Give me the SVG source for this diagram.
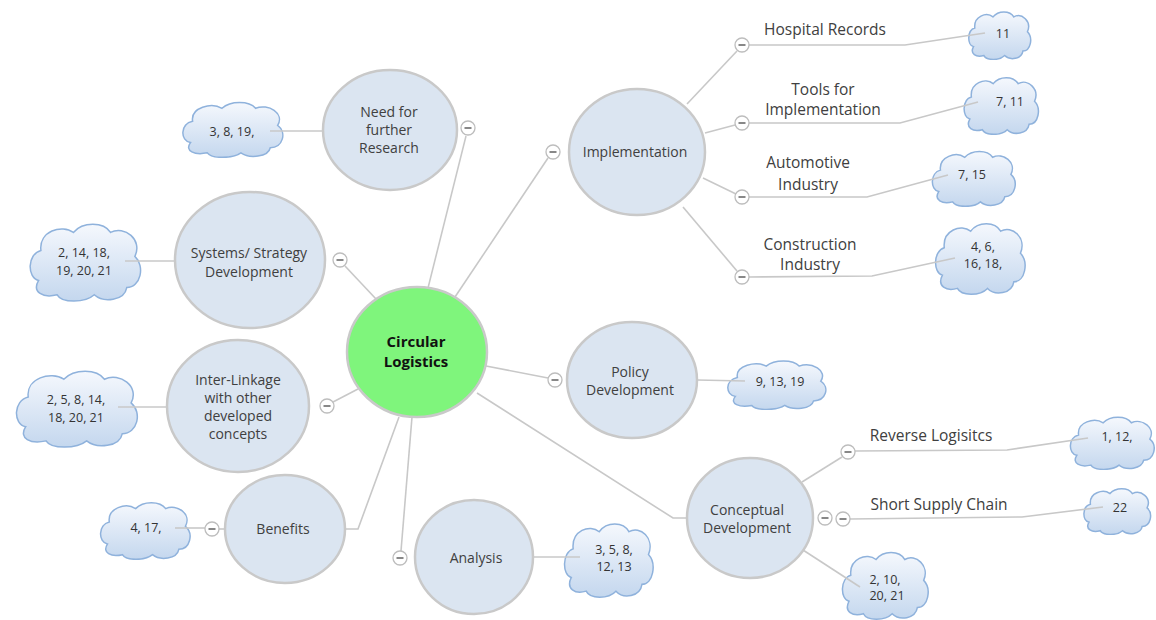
<svg xmlns="http://www.w3.org/2000/svg" xmlns:xlink="http://www.w3.org/1999/xlink" width="1156" height="620" viewBox="0 0 1156 620">
  <style>
    .topic { fill: #dbe5f1; stroke: #c9c9c9; stroke-width: 2.5; }
    .root { fill: #7ff57c; stroke: #c9c9c9; stroke-width: 2.5; }
    .lbl { font-family: "Open Sans", "Liberation Sans", sans-serif; font-size: 14px; fill: #404040; text-anchor: middle; }
    .root-lbl { font-family: "Open Sans", "Liberation Sans", sans-serif; font-size: 15px; font-weight: bold; fill: #111; text-anchor: middle; }
    .sub { font-family: "Open Sans", "Liberation Sans", sans-serif; font-size: 15.5px; fill: #404040; text-anchor: middle; }
    .ref { font-family: "Open Sans", "Liberation Sans", sans-serif; font-size: 12.5px; fill: #333; text-anchor: middle; }
    .link { fill: none; stroke: #c8c8c8; stroke-width: 1.6; }
  </style>
  <defs>
    <linearGradient id="cloudFill" x1="0" y1="0" x2="0" y2="1">
      <stop offset="0" stop-color="#f5f8fd"/>
      <stop offset="1" stop-color="#c4d7ee"/>
    </linearGradient>
    <!-- reference bubble: rounded cloud outline, stretched to each box -->
    <symbol id="cloud" viewBox="0 0 100 70" preserveAspectRatio="none">
      <path d="M10,52 C0,50 0,30 12,27 C10,11 30,5 40,12 C48,3 66,3 72,12 C84,6 100,18 93,32 C102,40 98,58 86,58 C84,69 66,71 58,64 C50,71 30,71 26,64 C14,67 4,62 10,52 Z"
            fill="url(#cloudFill)" stroke="#8fb2dc" stroke-width="1.5" vector-effect="non-scaling-stroke"/>
    </symbol>
    <!-- collapse toggle -->
    <g id="btn">
      <circle r="7" fill="#fff" stroke="#bdbdbd" stroke-width="1.3"/>
      <line x1="-3.5" y1="0" x2="3.5" y2="0" stroke="#555" stroke-width="1.4"/>
    </g>
  </defs>

  <rect width="1156" height="620" fill="#fff"/>

  <!-- main topics -->
  <g id="node-root">
    <ellipse class="root" cx="417" cy="352" rx="70" ry="65"/>
    <text class="root-lbl" x="416" y="347">Circular</text>
    <text class="root-lbl" x="416" y="367">Logistics</text>
  </g>
  <g id="node-research">
    <ellipse class="topic" cx="390" cy="130" rx="67" ry="60"/>
    <text class="lbl" x="389" y="117">Need for</text>
    <text class="lbl" x="389" y="135">further</text>
    <text class="lbl" x="389" y="153">Research</text>
  </g>
  <g id="node-systems">
    <ellipse class="topic" cx="250" cy="260" rx="75" ry="68"/>
    <text class="lbl" x="249" y="258">Systems/ Strategy</text>
    <text class="lbl" x="249" y="277">Development</text>
  </g>
  <g id="node-interlinkage">
    <ellipse class="topic" cx="238" cy="406" rx="71" ry="66"/>
    <text class="lbl" x="238" y="385">Inter-Linkage</text>
    <text class="lbl" x="238" y="403">with other</text>
    <text class="lbl" x="238" y="421">developed</text>
    <text class="lbl" x="238" y="439">concepts</text>
  </g>
  <g id="node-benefits">
    <ellipse class="topic" cx="285" cy="529" rx="60" ry="54"/>
    <text class="lbl" x="283" y="534">Benefits</text>
  </g>
  <g id="node-analysis">
    <ellipse class="topic" cx="474" cy="557" rx="59" ry="57"/>
    <text class="lbl" x="476" y="563">Analysis</text>
  </g>
  <g id="node-implementation">
    <ellipse class="topic" cx="637" cy="152" rx="68" ry="63"/>
    <text class="lbl" x="635" y="157">Implementation</text>
  </g>
  <g id="node-policy">
    <ellipse class="topic" cx="632" cy="380" rx="65" ry="58"/>
    <text class="lbl" x="630" y="377">Policy</text>
    <text class="lbl" x="630" y="395">Development</text>
  </g>
  <g id="node-conceptual">
    <ellipse class="topic" cx="750" cy="518" rx="63" ry="60"/>
    <text class="lbl" x="747" y="515">Conceptual</text>
    <text class="lbl" x="747" y="533">Development</text>
  </g>

  <!-- reference clouds -->
  <g id="ref-research">
    <use href="#cloud" x="180" y="98" width="105" height="60"/>
    <text class="ref" x="232" y="136">3, 8, 19,</text>
  </g>
  <g id="ref-systems">
    <use href="#cloud" x="27" y="218" width="116" height="84"/>
    <text class="ref" x="84" y="257">2, 14, 18,</text>
    <text class="ref" x="84" y="275">19, 20, 21</text>
  </g>
  <g id="ref-interlinkage">
    <use href="#cloud" x="13" y="365" width="127" height="83"/>
    <text class="ref" x="76" y="404">2, 5, 8, 14,</text>
    <text class="ref" x="76" y="422">18, 20, 21</text>
  </g>
  <g id="ref-benefits">
    <use href="#cloud" x="98" y="498" width="94" height="62"/>
    <text class="ref" x="146" y="532">4, 17,</text>
  </g>
  <g id="ref-analysis">
    <use href="#cloud" x="562" y="518" width="93" height="80"/>
    <text class="ref" x="614" y="554">3, 5, 8,</text>
    <text class="ref" x="614" y="571">12, 13</text>
  </g>
  <g id="ref-hospital">
    <use href="#cloud" x="967" y="8" width="65" height="52"/>
    <text class="ref" x="1003" y="38">11</text>
  </g>
  <g id="ref-tools">
    <use href="#cloud" x="962" y="73" width="78" height="62"/>
    <text class="ref" x="1010" y="106">7, 11</text>
  </g>
  <g id="ref-automotive">
    <use href="#cloud" x="930" y="147" width="87" height="60"/>
    <text class="ref" x="972" y="179">7, 15</text>
  </g>
  <g id="ref-construction">
    <use href="#cloud" x="933" y="218" width="94" height="77"/>
    <text class="ref" x="983" y="251">4, 6,</text>
    <text class="ref" x="983" y="268">16, 18,</text>
  </g>
  <g id="ref-policy">
    <use href="#cloud" x="725" y="357" width="103" height="53"/>
    <text class="ref" x="780" y="386">9, 13, 19</text>
  </g>
  <g id="ref-reverse">
    <use href="#cloud" x="1068" y="413" width="88" height="57"/>
    <text class="ref" x="1117" y="441">1, 12,</text>
  </g>
  <g id="ref-supply">
    <use href="#cloud" x="1082" y="485" width="70" height="50"/>
    <text class="ref" x="1120" y="512">22</text>
  </g>
  <g id="ref-conceptual">
    <use href="#cloud" x="840" y="547" width="90" height="73"/>
    <text class="ref" x="885" y="584">2, 10,</text>
    <text class="ref" x="887" y="600">20, 21</text>
  </g>

  <!-- sub-topic labels -->
  <g id="sub-hospital"><text class="sub" x="825" y="35">Hospital Records</text></g>
  <g id="sub-tools">
    <text class="sub" x="823" y="95">Tools for</text>
    <text class="sub" x="823" y="115">Implementation</text>
  </g>
  <g id="sub-automotive">
    <text class="sub" x="808" y="168">Automotive</text>
    <text class="sub" x="808" y="190">Industry</text>
  </g>
  <g id="sub-construction">
    <text class="sub" x="810" y="250">Construction</text>
    <text class="sub" x="810" y="270">Industry</text>
  </g>
  <g id="sub-reverse"><text class="sub" x="931" y="441">Reverse Logisitcs</text></g>
  <g id="sub-supply"><text class="sub" x="939" y="510">Short Supply Chain</text></g>

  <!-- connectors -->
  <g id="connectors">
    <!-- root to main topics -->
    <polyline class="link" points="466,136 428,288"/>
    <polyline class="link" points="345,266 376,299"/>
    <polyline class="link" points="333,402 358,389"/>
    <polyline class="link" points="345,529 358,529 399,417"/>
    <polyline class="link" points="401,551 412,417"/>
    <polyline class="link" points="455,297 548,158"/>
    <polyline class="link" points="486,366 548,378"/>
    <polyline class="link" points="477,393 673,518 687,518"/>
    <!-- main topics to references -->
    <polyline class="link" points="270,131 323,131"/>
    <polyline class="link" points="125,261 175,261"/>
    <polyline class="link" points="118,407 167,407"/>
    <polyline class="link" points="175,528 205,528"/>
    <polyline class="link" points="219,529 225,529"/>
    <polyline class="link" points="533,557 580,557"/>
    <polyline class="link" points="697,380 745,381"/>
    <!-- implementation branches -->
    <polyline class="link" points="687,104 737,51"/>
    <polyline class="link" points="749,45 905,45 985,33"/>
    <polyline class="link" points="705,133 735,125"/>
    <polyline class="link" points="749,123 900,123 978,102"/>
    <polyline class="link" points="703,178 736,194"/>
    <polyline class="link" points="749,197 867,197 948,175"/>
    <polyline class="link" points="683,207 737,271"/>
    <polyline class="link" points="749,277 872,276 955,258"/>
    <!-- conceptual branches -->
    <polyline class="link" points="802,482 842,457"/>
    <polyline class="link" points="855,451 1007,450 1088,438"/>
    <polyline class="link" points="850,519 1022,517 1103,507"/>
    <polyline class="link" points="803,550 860,587"/>
  </g>

  <!-- collapse toggles -->
  <g id="toggles">
    <use href="#btn" transform="translate(468,128)"/>
    <use href="#btn" transform="translate(340,260)"/>
    <use href="#btn" transform="translate(327,406)"/>
    <use href="#btn" transform="translate(212,529)"/>
    <use href="#btn" transform="translate(400,558)"/>
    <use href="#btn" transform="translate(553,152)"/>
    <use href="#btn" transform="translate(555,380)"/>
    <use href="#btn" transform="translate(742,45)"/>
    <use href="#btn" transform="translate(742,123)"/>
    <use href="#btn" transform="translate(742,197)"/>
    <use href="#btn" transform="translate(742,277)"/>
    <use href="#btn" transform="translate(848,452)"/>
    <use href="#btn" transform="translate(825,518)"/>
    <use href="#btn" transform="translate(843,519)"/>
  </g>
</svg>
